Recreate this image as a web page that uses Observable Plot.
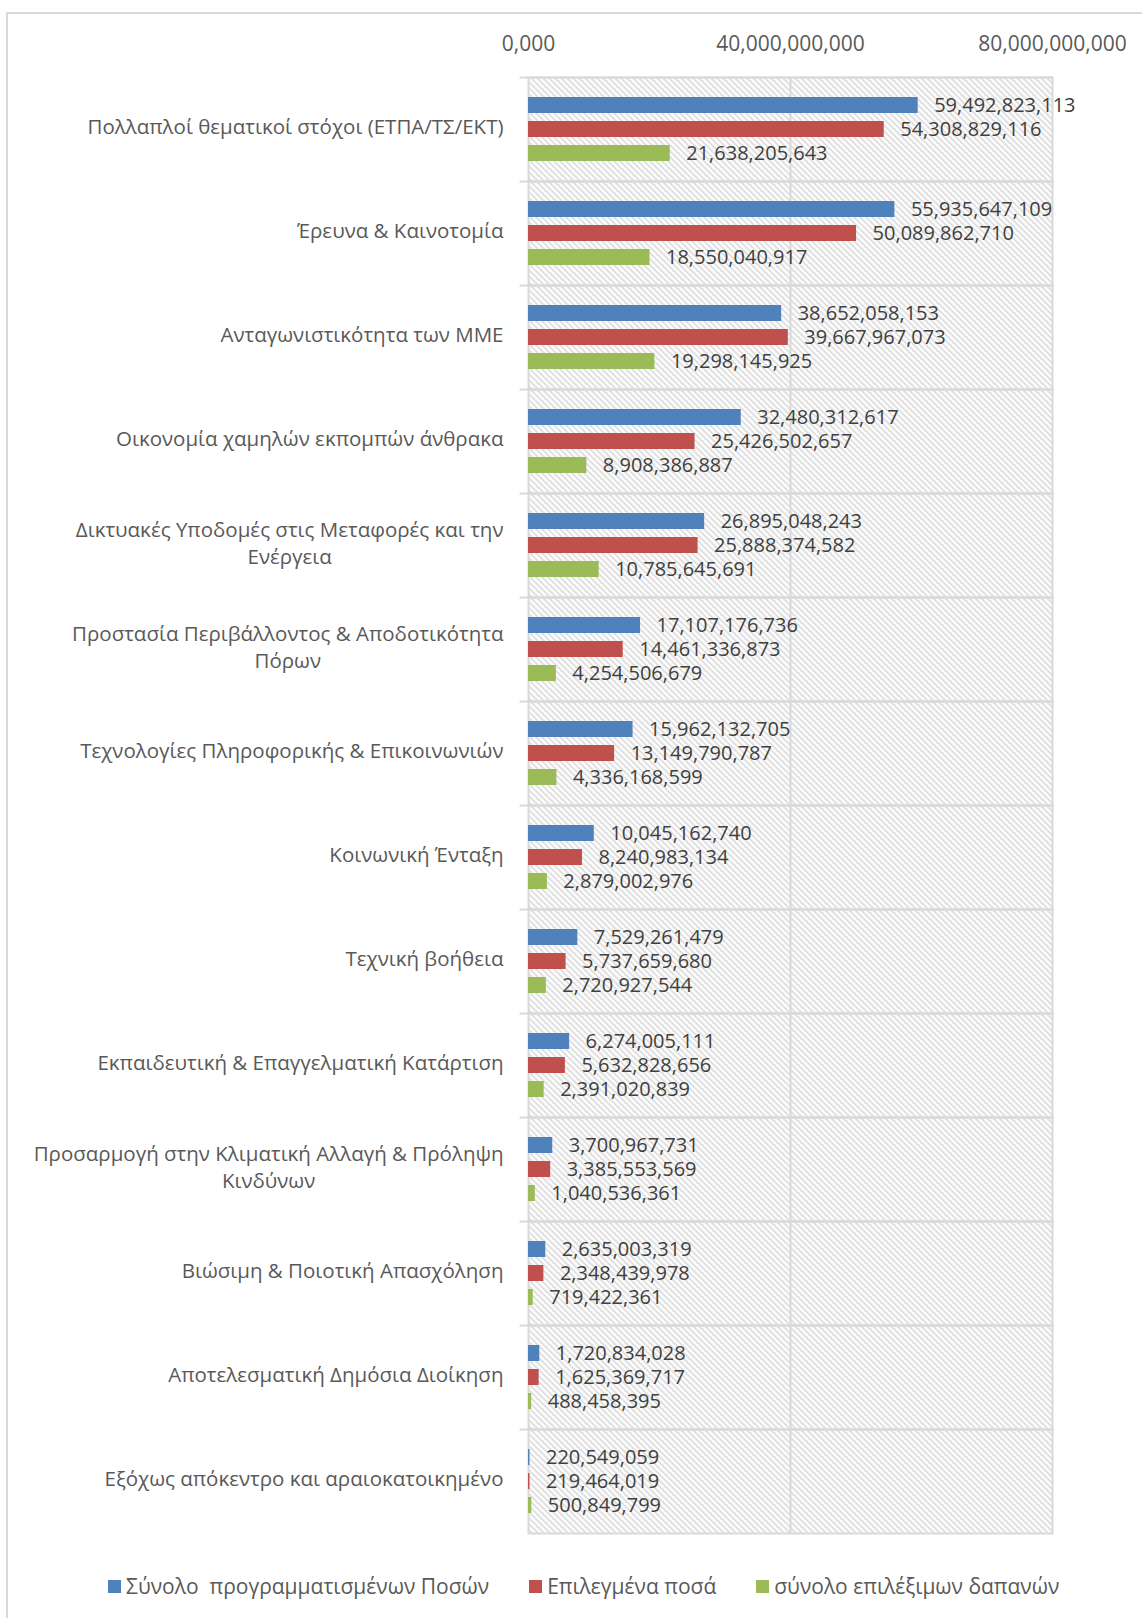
<!DOCTYPE html>
<html>
<head>
<meta charset="utf-8">
<script src="https://cdn.jsdelivr.net/npm/d3@7"></script>
<script src="https://cdn.jsdelivr.net/npm/@observablehq/plot@0.6"></script>
<style>
  html, body { margin: 0; padding: 0; background: #fff; }
  #wrap { position: relative; width: 1142px; height: 1618px; overflow: hidden; font-family: "Open Sans", sans-serif; }
  #chart { position: absolute; left: 0; top: 0; }
  #border { position: absolute; left: 6px; top: 12px; width: 1300px; height: 1800px; border-left: 2px solid #d9d9d9; border-top: 2px solid #d9d9d9; pointer-events: none; }
  #legend { position: absolute; left: 108px; top: 1572px; display: flex; align-items: center; font-size: 21px; color: #595959; white-space: pre; }
  .item { display: flex; align-items: center; margin-right: 40px; }
  .sw { width: 13px; height: 13px; margin-right: 5px; }
</style>
</head>
<body>
<div id="wrap">
  <div id="chart"></div>
  <div id="border"></div>
  <div id="legend"></div>
</div>
<script>
const categories = [
  "Πολλαπλοί θεματικοί στόχοι (ΕΤΠΑ/ΤΣ/ΕΚΤ)",
  "Έρευνα & Καινοτομία",
  "Ανταγωνιστικότητα των ΜΜΕ",
  "Οικονομία χαμηλών εκπομπών άνθρακα",
  "Δικτυακές Υποδομές στις Μεταφορές και την\nΕνέργεια",
  "Προστασία Περιβάλλοντος & Αποδοτικότητα\nΠόρων",
  "Τεχνολογίες Πληροφορικής & Επικοινωνιών",
  "Κοινωνική Ένταξη",
  "Τεχνική βοήθεια",
  "Εκπαιδευτική & Επαγγελματική Κατάρτιση",
  "Προσαρμογή στην Κλιματική Αλλαγή & Πρόληψη\nΚινδύνων",
  "Βιώσιμη & Ποιοτική Απασχόληση",
  "Αποτελεσματική Δημόσια Διοίκηση",
  "Εξόχως απόκεντρο και αραιοκατοικημένο"
];
const seriesNames = ["Σύνολο  προγραμματισμένων Ποσών", "Επιλεγμένα ποσά", "σύνολο επιλέξιμων δαπανών"];
const seriesColors = ["#4f81bd", "#c0504d", "#9bbb59"];
const planned = [59492823113, 55935647109, 38652058153, 32480312617, 26895048243, 17107176736, 15962132705, 10045162740, 7529261479, 6274005111, 3700967731, 2635003319, 1720834028, 220549059];
const selected = [54308829116, 50089862710, 39667967073, 25426502657, 25888374582, 14461336873, 13149790787, 8240983134, 5737659680, 5632828656, 3385553569, 2348439978, 1625369717, 219464019];
const eligible = [21638205643, 18550040917, 19298145925, 8908386887, 10785645691, 4254506679, 4336168599, 2879002976, 2720927544, 2391020839, 1040536361, 719422361, 488458395, 500849799];
const tickValues = [0, 40000000000, 80000000000];
const tickLabels = ["0,000", "40,000,000,000", "80,000,000,000"];

const seriesValues = [planned, selected, eligible];
const data = categories.flatMap((c, i) => seriesNames.map((s, j) => ({cat: c, s, v: seriesValues[j][i]})));
const fmt = d3.format(",");

const chart = Plot.plot({
  width: 1142,
  height: 1540,
  marginTop: 74,
  marginBottom: 5,
  marginLeft: 528,
  marginRight: 90,
  style: {fontFamily: "Open Sans", fontSize: "21px", color: "#595959", background: "transparent", overflow: "visible"},
  x: {domain: [0, 80000000000], axis: "top", ticks: tickValues, tickFormat: (d) => tickLabels[tickValues.indexOf(d)], tickSize: 0, tickPadding: 27, label: null},
  fy: {domain: categories, padding: 0, axis: null},
  y: {domain: seriesNames, axis: null, paddingInner: 0.35, paddingOuter: 0.83},
  color: {domain: seriesNames, range: seriesColors},
  marks: [
    Plot.frame({fill: "url(#hatch)"}),
    Plot.ruleX([40000000000], {stroke: "#d9d9d9", strokeWidth: 2}),
    Plot.frame({stroke: "#d9d9d9", strokeWidth: 2}),
    Plot.frame({anchor: "top", stroke: "#d9d9d9", strokeWidth: 2, insetLeft: -8}),
    Plot.barX(data, {x: "v", y: "s", fy: "cat", fill: "s"}),
    Plot.text(data, {x: "v", y: "s", fy: "cat", text: d => fmt(d.v), textAnchor: "start", dx: 16, fill: "#404040", fontSize: 20}),
    Plot.text(categories, {fy: d => d, text: d => d, frameAnchor: "left", textAnchor: "end", dx: -25, dy: -4, lineAnchor: "middle", fill: "#595959", fontSize: 20.5, lineHeight: 1.35})
  ]
});

const ns = "http://www.w3.org/2000/svg";
const defs = document.createElementNS(ns, "defs");
defs.innerHTML = '<pattern id="hatch" patternUnits="userSpaceOnUse" width="6" height="6">' +
  '<rect width="6" height="6" fill="#ffffff"/>' +
  '<path d="M-1,-1 L7,7 M-1,5 L1,7 M5,-1 L7,1" stroke="#d2d2d2" stroke-width="1.4"/></pattern>';
chart.insertBefore(defs, chart.firstChild);
document.getElementById("chart").appendChild(chart);

// center shorter lines of wrapped category labels relative to the longest line
chart.querySelectorAll("text").forEach(t => {
  const spans = t.querySelectorAll("tspan");
  if (spans.length > 1) {
    const ws = Array.from(spans, s => s.getComputedTextLength());
    const maxW = Math.max(...ws);
    spans.forEach((s, k) => { s.setAttribute("dx", -(maxW - ws[k]) / 2); });
  }
});

const legend = document.getElementById("legend");
seriesNames.forEach((s, i) => {
  const it = document.createElement("div");
  it.className = "item";
  const sw = document.createElement("div");
  sw.className = "sw";
  sw.style.background = seriesColors[i];
  const tx = document.createElement("span");
  tx.textContent = s;
  it.appendChild(sw); it.appendChild(tx);
  legend.appendChild(it);
});
</script>
</body>
</html>
